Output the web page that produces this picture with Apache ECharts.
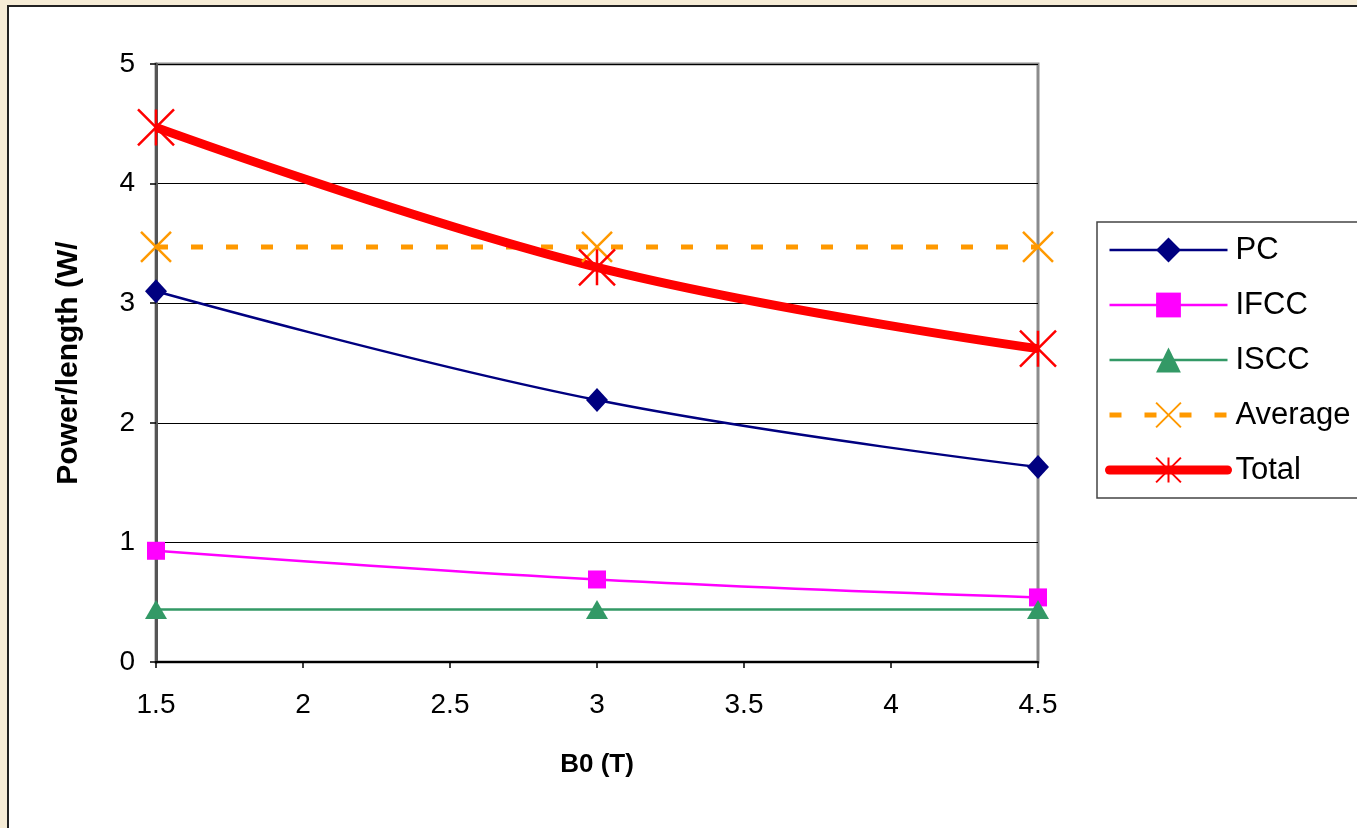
<!DOCTYPE html>
<html>
<head>
<meta charset="utf-8">
<script src="https://cdn.jsdelivr.net/npm/echarts@6/dist/echarts.min.js"></script>
<style>
html,body{margin:0;padding:0;background:#f6ecd6;}
#chart{width:1357px;height:828px;}
</style>
</head>
<body>
<div id="chart"></div>
<script>
const xValues = [1.5, 3, 4.5];
const pcValues = [3.10, 2.19, 1.63];
const ifccValues = [0.93, 0.69, 0.54];
const isccValues = [0.44, 0.44, 0.44];
const averageValues = [3.47, 3.47, 3.47];
const totalValues = [4.47, 3.30, 2.62];
const seriesNames = ['PC', 'IFCC', 'ISCC', 'Average', 'Total'];
const xAxisTitle = 'B0 (T)';
const yAxisTitle = 'Power/length (W/';

const pairs = vals => xValues.map((x, i) => [x, vals[i]]);
const FONT = '"Liberation Sans", Arial, sans-serif';
const crossPath = 'path://M0 0 L10 10 M10 0 L0 10';
const starPath = 'path://M0 0 L10 10 M10 0 L0 10 M5 0 L5 10';

const chart = echarts.init(document.getElementById('chart'), null, {renderer: 'canvas'});
chart.setOption({
  animation: false,
  backgroundColor: '#f6ecd6',
  graphic: [{
    type: 'rect', z: -100, silent: true,
    shape: {x: 8, y: 6, width: 1400, height: 900},
    style: {fill: '#ffffff', stroke: '#222222', lineWidth: 2}
  }],
  grid: {
    left: 156, top: 64, right: 319, bottom: 166,
    show: true, borderColor: '#8c8c8c', borderWidth: 3, backgroundColor: 'transparent'
  },
  legend: {
    orient: 'vertical',
    left: 1097, top: 222,
    padding: [12, 40, 12, 8],
    borderColor: '#444', borderWidth: 1.5, backgroundColor: '#fff',
    itemWidth: 118, itemHeight: 31, itemGap: 23,
    textStyle: {fontFamily: FONT, fontSize: 31, color: '#000', padding: [0, 0, 0, 3], lineHeight: 32},
    data: [
      {name: seriesNames[0], lineStyle: {width: 2.5}},
      {name: seriesNames[1], lineStyle: {width: 2.5}},
      {name: seriesNames[2], lineStyle: {width: 2.5}},
      {name: seriesNames[3], lineStyle: {width: 5}},
      {name: seriesNames[4], lineStyle: {width: 9, cap: 'round'}}
    ]
  },
  xAxis: {
    type: 'value', min: 1.5, max: 4.5, interval: 0.5,
    name: xAxisTitle, nameLocation: 'middle', nameGap: 90,
    nameTextStyle: {fontFamily: FONT, fontSize: 26, fontWeight: 'bold', color: '#000'},
    axisLine: {show: true, onZero: false, lineStyle: {color: '#000', width: 2}},
    axisTick: {show: true, inside: false, length: 6, lineStyle: {color: '#000', width: 1.5}},
    axisLabel: {fontFamily: FONT, fontSize: 28, color: '#000', margin: 29},
    splitLine: {show: false}
  },
  yAxis: {
    type: 'value', min: 0, max: 5, interval: 1,
    name: yAxisTitle, nameLocation: 'middle', nameGap: 72,
    nameTextStyle: {fontFamily: FONT, fontSize: 30, fontWeight: 'bold', color: '#000'},
    axisLine: {show: true, lineStyle: {color: '#555', width: 3}},
    axisTick: {show: true, inside: false, length: 6, lineStyle: {color: '#000', width: 1.5}},
    axisLabel: {fontFamily: FONT, fontSize: 28, color: '#000', margin: 21},
    splitLine: {show: true, lineStyle: {color: '#000', width: 1.2}}
  },
  series: [
    {
      name: seriesNames[0], type: 'line', data: pairs(pcValues), smooth: 0.4,
      symbol: 'diamond', symbolSize: [22, 24],
      lineStyle: {color: '#000080', width: 2.5},
      itemStyle: {color: '#000080'}
    },
    {
      name: seriesNames[1], type: 'line', data: pairs(ifccValues), smooth: 0.4,
      symbol: 'rect', symbolSize: [18, 18],
      lineStyle: {color: '#ff00ff', width: 2.5},
      itemStyle: {color: '#ff00ff'}
    },
    {
      name: seriesNames[2], type: 'line', data: pairs(isccValues), smooth: false,
      symbol: 'triangle', symbolSize: [22, 19],
      lineStyle: {color: '#339966', width: 2.5},
      itemStyle: {color: '#339966'}
    },
    {
      name: seriesNames[3], type: 'line', data: pairs(averageValues), smooth: false,
      symbol: crossPath, symbolSize: [30, 30],
      lineStyle: {color: '#ff9900', width: 5, type: [12, 23]},
      itemStyle: {color: 'none', borderColor: '#ff9900', borderWidth: 2.5}
    },
    {
      name: seriesNames[4], type: 'line', data: pairs(totalValues), smooth: 0.4,
      symbol: starPath, symbolSize: [36, 36],
      lineStyle: {color: '#ff0000', width: 9},
      itemStyle: {color: 'none', borderColor: '#ff0000', borderWidth: 2.5}
    }
  ]
});
</script>
</body>
</html>
